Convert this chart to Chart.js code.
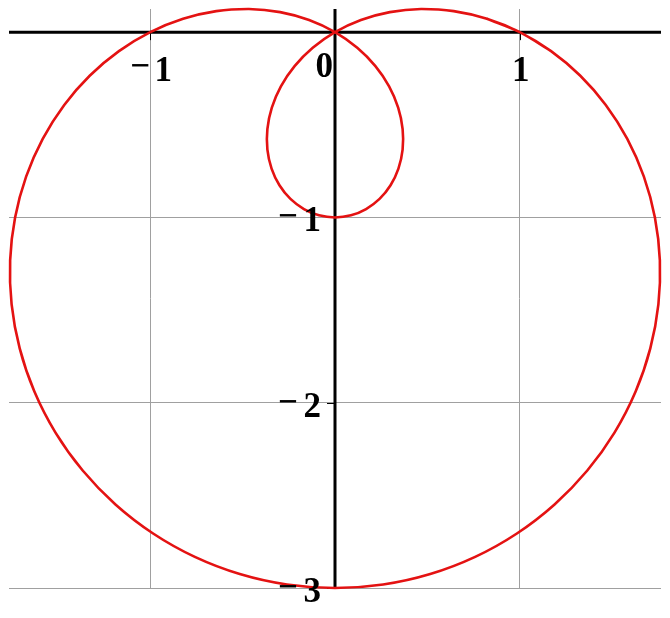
<!DOCTYPE html>
<html>
<head>
<meta charset="utf-8">
<script src="https://cdn.jsdelivr.net/npm/chart.js@4/dist/chart.umd.min.js"></script>
<style>
html,body{margin:0;padding:0;background:#fff;}
#wrap{width:670px;height:618px;}
</style>
</head>
<body>
<div id="wrap"><canvas id="c" width="670" height="618"></canvas></div>
<script>
// Curve points (limaçon), in drawing order
const curveX = [1.16985, 1, 0.82253, 0.64279, 0.46593, 0.29690, 0.14026, 0,
  -0.12055, -0.21877, -0.29290, -0.34202, -0.36611, -0.36603, -0.34343, -0.30077, -0.24118, -0.16837, -0.08650, 0,
  0.08650, 0.16837, 0.24118, 0.30077, 0.34343, 0.36603, 0.36611, 0.34202, 0.29290, 0.21877, 0.12055, 0,
  -0.14026, -0.29690, -0.46593, -0.64279, -0.82253, -1,
  -1.16985, -1.32683, -1.46593, -1.58248, -1.67236, -1.73205, -1.75885, -1.75087, -1.70711, -1.62760,
  -1.51327, -1.36603, -1.18867, -0.98481, -0.75882, -0.51568, -0.26082, 0,
  0.26082, 0.51568, 0.75882, 0.98481, 1.18867, 1.36603, 1.51327, 1.62760, 1.70711, 1.75087,
  1.75885, 1.73205, 1.67236, 1.58248, 1.46593, 1.32683, 1.16985, 1, 0.82253];
const curveY = [-0.10235, 0, 0.07197, 0.11334, 0.12484, 0.10806, 0.06540, 0,
  -0.08441, -0.18357, -0.29290, -0.40760, -0.52286, -0.63400, -0.73649, -0.82635, -0.90011, -0.95489, -0.98860, -1,
  -0.98860, -0.95489, -0.90011, -0.82635, -0.73649, -0.63400, -0.52286, -0.40760, -0.29290, -0.18357, -0.08441, 0,
  0.06540, 0.10806, 0.12484, 0.11334, 0.07197, 0,
  -0.10235, -0.23396, -0.39280, -0.57598, -0.77983, -1, -1.23157, -1.46914, -1.70711, -1.93967,
  -2.16117, -2.36603, -2.54910, -2.70573, -2.83197, -2.92451, -2.98098, -3,
  -2.98098, -2.92451, -2.83197, -2.70573, -2.54910, -2.36603, -2.16117, -1.93967, -1.70711, -1.46914,
  -1.23157, -1, -0.77983, -0.57598, -0.39280, -0.23396, -0.10235, 0, 0.07197];

const xTickValues = [-1, 1];
const xTickLabels = ['\u22121', '1'];
const originLabel = '0';
const yTickValues = [-1, -2, -3];
const yTickLabels = ['\u22121', '\u22122', '\u22123'];
const xRange = [-1.765, 1.765];
const yRange = [-3, 0.125];

const points = curveX.map((x, i) => ({x: x, y: curveY[i]}));

const FONT = 'bold 35px "Liberation Serif", "Times New Roman", serif';

const axesPlugin = {
  id: 'mathAxes',
  beforeDatasetsDraw(chart) {
    const {ctx, chartArea: a, scales: {x, y}} = chart;
    const x0 = x.getPixelForValue(0), y0 = y.getPixelForValue(0);
    ctx.save();
    ctx.strokeStyle = '#000';
    ctx.lineWidth = 3;
    ctx.beginPath();
    ctx.moveTo(a.left, y0); ctx.lineTo(a.right, y0);
    ctx.moveTo(x0, a.top); ctx.lineTo(x0, a.bottom);
    ctx.stroke();
    ctx.lineWidth = 1;
    ctx.beginPath();
    xTickValues.forEach(v => {
      const px = Math.round(x.getPixelForValue(v)) + 0.5;
      ctx.moveTo(px, y0); ctx.lineTo(px, y0 + 8);
    });
    yTickValues.forEach(v => {
      const py = Math.round(y.getPixelForValue(v)) + 0.5;
      ctx.moveTo(x0, py); ctx.lineTo(x0 - 8, py);
    });
    ctx.stroke();
    ctx.restore();
  },
  afterDatasetsDraw(chart) {
    const {ctx, scales: {x, y}} = chart;
    const x0 = x.getPixelForValue(0), y0 = y.getPixelForValue(0);
    ctx.save();
    ctx.fillStyle = '#000';
    ctx.font = FONT;
    ctx.textBaseline = 'alphabetic';
    xTickValues.forEach((v, i) => {
      const px = x.getPixelForValue(v);
      const lab = xTickLabels[i];
      const base = y0 + 49;
      ctx.textAlign = 'center';
      if (lab[0] === '\u2212') {
        ctx.fillText('\u2212', px - 10, base - 4);
        ctx.fillText(lab.slice(1), px + 13, base);
      } else {
        ctx.fillText(lab, px + 1, base);
      }
    });
    ctx.textAlign = 'right';
    ctx.fillText(originLabel, x0 - 2, y0 + 45);
    yTickValues.forEach((v, i) => {
      const py = y.getPixelForValue(v);
      const lab = yTickLabels[i];
      const base = py + 14;
      ctx.textAlign = 'right';
      ctx.fillText(lab.slice(1), x0 - 14, base);
      ctx.textAlign = 'center';
      ctx.fillText('\u2212', x0 - 47, base - 4);
    });
    ctx.restore();
  }
};

new Chart(document.getElementById('c'), {
  type: 'scatter',
  data: {
    datasets: [{
      data: points,
      showLine: true,
      borderColor: 'rgb(228,18,18)',
      borderWidth: 2.6,
      pointRadius: 0,
      tension: 0.33,
      fill: false,
      clip: false
    }]
  },
  options: {
    responsive: false,
    animation: false,
    devicePixelRatio: 1,
    layout: {padding: {left: 9, right: 9, top: 9, bottom: 30}},
    plugins: {legend: {display: false}, tooltip: {enabled: false}},
    scales: {
      x: {
        type: 'linear',
        min: xRange[0], max: xRange[1],
        afterBuildTicks: s => { s.ticks = [...xTickValues, 0].map(v => ({value: v})); },
        ticks: {display: false},
        border: {display: false},
        grid: {color: '#a0a0a0', lineWidth: 1, drawTicks: false}
      },
      y: {
        type: 'linear',
        min: yRange[0], max: yRange[1],
        afterBuildTicks: s => { s.ticks = [...yTickValues, 0].map(v => ({value: v})); },
        ticks: {display: false},
        border: {display: false},
        grid: {color: '#a0a0a0', lineWidth: 1, drawTicks: false}
      }
    }
  },
  plugins: [axesPlugin]
});
</script>
</body>
</html>
